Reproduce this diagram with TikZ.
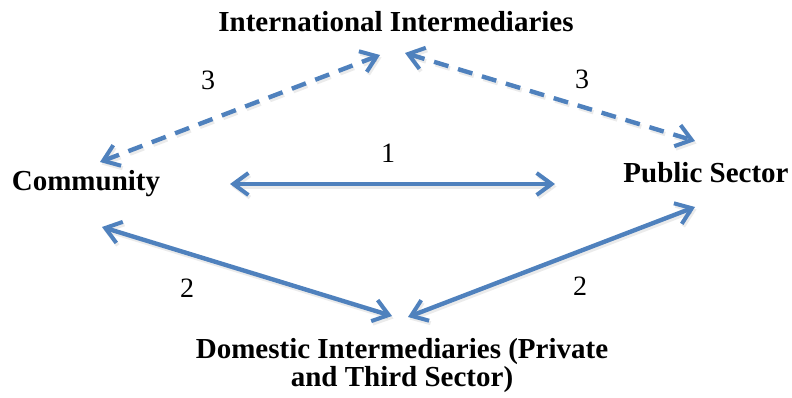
\documentclass[tikz,border=0pt]{standalone}
\usepackage{fontspec}
\setmainfont{Liberation Serif}
\usetikzlibrary{arrows.meta}
\definecolor{linkblue}{HTML}{4F81BD}
\tikzset{
  actor/.style={font=\fontsize{29}{26}\selectfont\bfseries, inner sep=0pt, anchor=base},
  tag/.style={font=\fontsize{28}{28}\selectfont, inner sep=0pt},
  barb/.tip={Straight Barb[length=15pt,width=22pt,line width=4pt]},
  link/.style={draw=linkblue, line width=4.4pt, {barb}-{barb},
    preaction={draw=black, opacity=0.08, line width=4.4pt,
      transform canvas={shift={(1.5pt,-2.5pt)}}}},
  weaklink/.style={draw=linkblue, line width=4.4pt, {barb}-{barb},
    dash pattern=on 15pt off 10pt,
    preaction={draw=black, opacity=0.08, line width=4.4pt,
      dash pattern=on 15pt off 10pt,
      transform canvas={shift={(1.5pt,-2.5pt)}}}}
}
\begin{document}
\begin{tikzpicture}[x=1pt,y=-1pt]
\useasboundingbox (0,0) rectangle (792,398);

% actors
\node[actor] (intl) at (396,32) {International Intermediaries};
\node[actor] (comm) at (86,191) {Community};
\node[actor] (pub) at (706,183) {Public Sector};
\node[actor, align=center] (dom) at (402,386) {Domestic Intermediaries (Private\\and Third Sector)};

% arrow ends
\coordinate (intlL) at (380,55);
\coordinate (intlR) at (405,53);
\coordinate (commT) at (100,162);
\coordinate (commR) at (230,184);
\coordinate (commB) at (102,227);
\coordinate (pubT) at (695,141);
\coordinate (pubL) at (555,184);
\coordinate (pubB) at (695,207);
\coordinate (domL) at (392,316);
\coordinate (domR) at (408,317);

% connectors
\draw[weaklink] (commT) -- (intlL);
\draw[weaklink] (intlR) -- (pubT);
\draw[link] (commR) -- (pubL);
\draw[link] (commB) -- (domL);
\draw[link] (pubB) -- (domR);

% strength labels
\node[tag] (n3a) at (208,80) {3};
\node[tag] (n3b) at (582,79) {3};
\node[tag] (n1) at (388,153) {1};
\node[tag] (n2a) at (187,288) {2};
\node[tag] (n2b) at (580,286) {2};
\end{tikzpicture}
\end{document}
